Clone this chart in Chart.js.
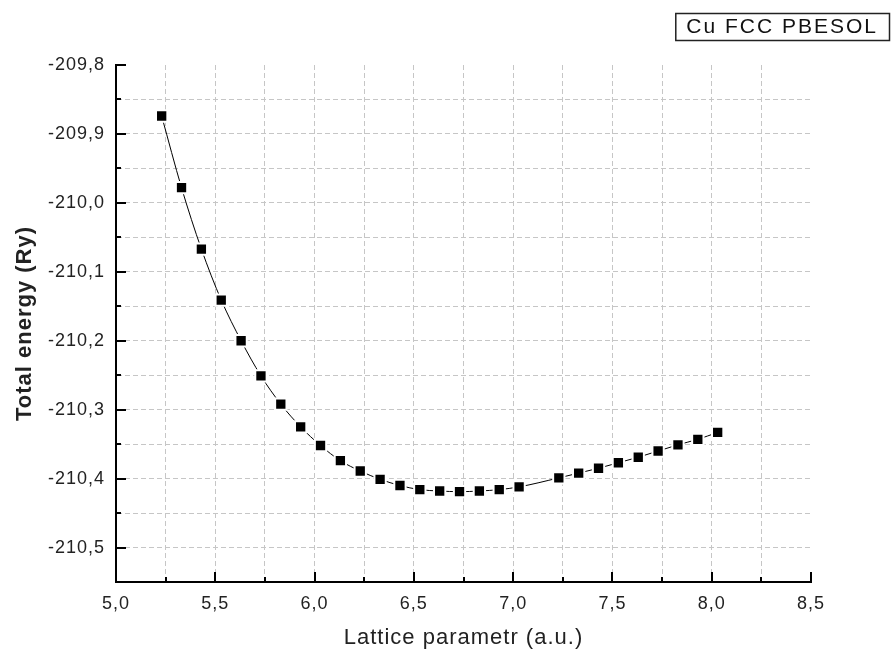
<!DOCTYPE html>
<html><head><meta charset="utf-8">
<script src="https://cdn.jsdelivr.net/npm/chart.js@4.4.1/dist/chart.umd.min.js"></script>
<style>html,body{margin:0;padding:0;background:#fff;}canvas{display:block;}</style>
</head><body>
<canvas id="c" width="891" height="653"></canvas>
<script>
const latticeParam = [5.23, 5.33, 5.43, 5.53, 5.63, 5.73, 5.83, 5.93, 6.03, 6.13,
  6.23, 6.33, 6.43, 6.53, 6.63, 6.73, 6.83, 6.93, 7.03,
  7.23, 7.33, 7.43, 7.53, 7.63, 7.73, 7.83, 7.93, 8.03];
const totalEnergy = [-209.874, -209.978, -210.067, -210.141, -210.200, -210.251, -210.292, -210.325, -210.352, -210.374,
  -210.389, -210.401, -210.410, -210.416, -210.418, -210.419, -210.418, -210.416, -210.412,
  -210.399, -210.392, -210.385, -210.377, -210.369, -210.360, -210.351, -210.343, -210.333];
const seriesLabel = 'Cu FCC PBESOL';
const xTitle = 'Lattice parametr (a.u.)';
const yTitle = 'Total energy (Ry)';
const xRange = [5.0, 8.5];
const xSteps = [0.25, 0.5];   // grid step, label step
const yRange = [-210.55, -209.8];
const ySteps = [0.05, 0.1];

const FONT = '"Liberation Sans", Arial, sans-serif';
function isMultiple(v, step){ const r = v / step; return Math.abs(r - Math.round(r)) < 1e-6; }
function fmt(v){ return v.toFixed(1).replace('.', ','); }
function gridColor(max){
  return (ctx) => (ctx.tick && Math.abs(ctx.tick.value - max) < 1e-9) ? 'rgba(0,0,0,0)' : '#c6c6c6';
}

const spacingPlugin = {
  id: 'spacing',
  beforeUpdate(chart){ chart.ctx.letterSpacing = '1px'; },
  beforeDraw(chart){ chart.ctx.letterSpacing = '1px'; }
};

const tickMarks = {
  id: 'tickMarks',
  afterDraw(chart){
    const ctx = chart.ctx;
    const a = chart.chartArea;
    ctx.save();
    ctx.strokeStyle = '#000';
    ctx.lineWidth = 2;
    const xs = chart.scales.x, ys = chart.scales.y;
    xs.ticks.forEach(t => {
      const px = Math.round(xs.getPixelForValue(t.value));
      const len = isMultiple(t.value, xSteps[1]) ? 10 : 5;
      ctx.beginPath(); ctx.moveTo(px, a.bottom); ctx.lineTo(px, a.bottom - len); ctx.stroke();
    });
    ys.ticks.forEach(t => {
      const py = Math.round(ys.getPixelForValue(t.value));
      const len = isMultiple(t.value, ySteps[1]) ? 10 : 5;
      ctx.beginPath(); ctx.moveTo(a.left, py); ctx.lineTo(a.left + len, py); ctx.stroke();
    });
    ctx.restore();
  }
};

const legendBox = {
  id: 'legendBox',
  afterDraw(chart){
    const ctx = chart.ctx;
    const label = chart.data.datasets[0].label;
    ctx.save();
    ctx.letterSpacing = '2px';
    ctx.font = '21px ' + FONT;
    const w = ctx.measureText(label).width;
    const right = chart.width - 2, top = 13, h = 27;
    const left = right - w - 22;
    ctx.strokeStyle = '#222';
    ctx.lineWidth = 1.5;
    ctx.strokeRect(left + 0.5, top + 0.5, right - left, h);
    ctx.fillStyle = '#111';
    ctx.textBaseline = 'middle';
    ctx.textAlign = 'left';
    ctx.fillText(label, left + 11, top + h / 2 + 1);
    ctx.restore();
  }
};

const points = latticeParam.map((x, i) => ({x: x, y: totalEnergy[i]}));

new Chart(document.getElementById('c'), {
  type: 'line',
  data: {
    datasets: [{
      label: seriesLabel,
      data: points,
      borderColor: '#000',
      borderWidth: 1,
      cubicInterpolationMode: 'monotone',
      pointStyle: 'rect',
      pointRadius: 8,
      pointBackgroundColor: '#000',
      pointBorderColor: '#fff',
      pointBorderWidth: 2,
      fill: false
    }]
  },
  options: {
    responsive: false,
    animation: false,
    devicePixelRatio: 1,
    layout: { padding: { top: 65, right: 80, left: 0, bottom: 0 } },
    plugins: { legend: { display: false }, tooltip: { enabled: false } },
    scales: {
      x: {
        type: 'linear',
        position: 'bottom',
        min: xRange[0], max: xRange[1],
        afterFit(s){ s.height = 71; },
        ticks: {
          stepSize: xSteps[0], autoSkip: false, maxRotation: 0, padding: 11,
          color: '#222', font: { family: FONT, size: 18 },
          callback: (v) => isMultiple(v, xSteps[1]) ? fmt(v) : ''
        },
        grid: { color: gridColor(xRange[1]), lineWidth: 1, drawTicks: false },
        border: { display: true, color: '#000', width: 2, dash: [5, 3] },
        title: { display: true, text: xTitle, color: '#222', font: { family: FONT, size: 22 }, padding: { top: 0, bottom: 2 } }
      },
      y: {
        type: 'linear',
        position: 'left',
        min: yRange[0], max: yRange[1],
        afterFit(s){ s.width = 116; },
        ticks: {
          stepSize: ySteps[0], autoSkip: false, padding: 11,
          color: '#222', font: { family: FONT, size: 18 },
          callback: (v) => isMultiple(v, ySteps[1]) ? fmt(v) : ''
        },
        grid: { color: gridColor(yRange[1]), lineWidth: 1, drawTicks: false },
        border: { display: true, color: '#000', width: 2, dash: [5, 3] },
        title: { display: true, text: yTitle, color: '#222', font: { family: FONT, size: 22, weight: 'bold' }, padding: { top: 12, bottom: 0 } }
      }
    }
  },
  plugins: [spacingPlugin, tickMarks, legendBox]
});
</script>
</body></html>
